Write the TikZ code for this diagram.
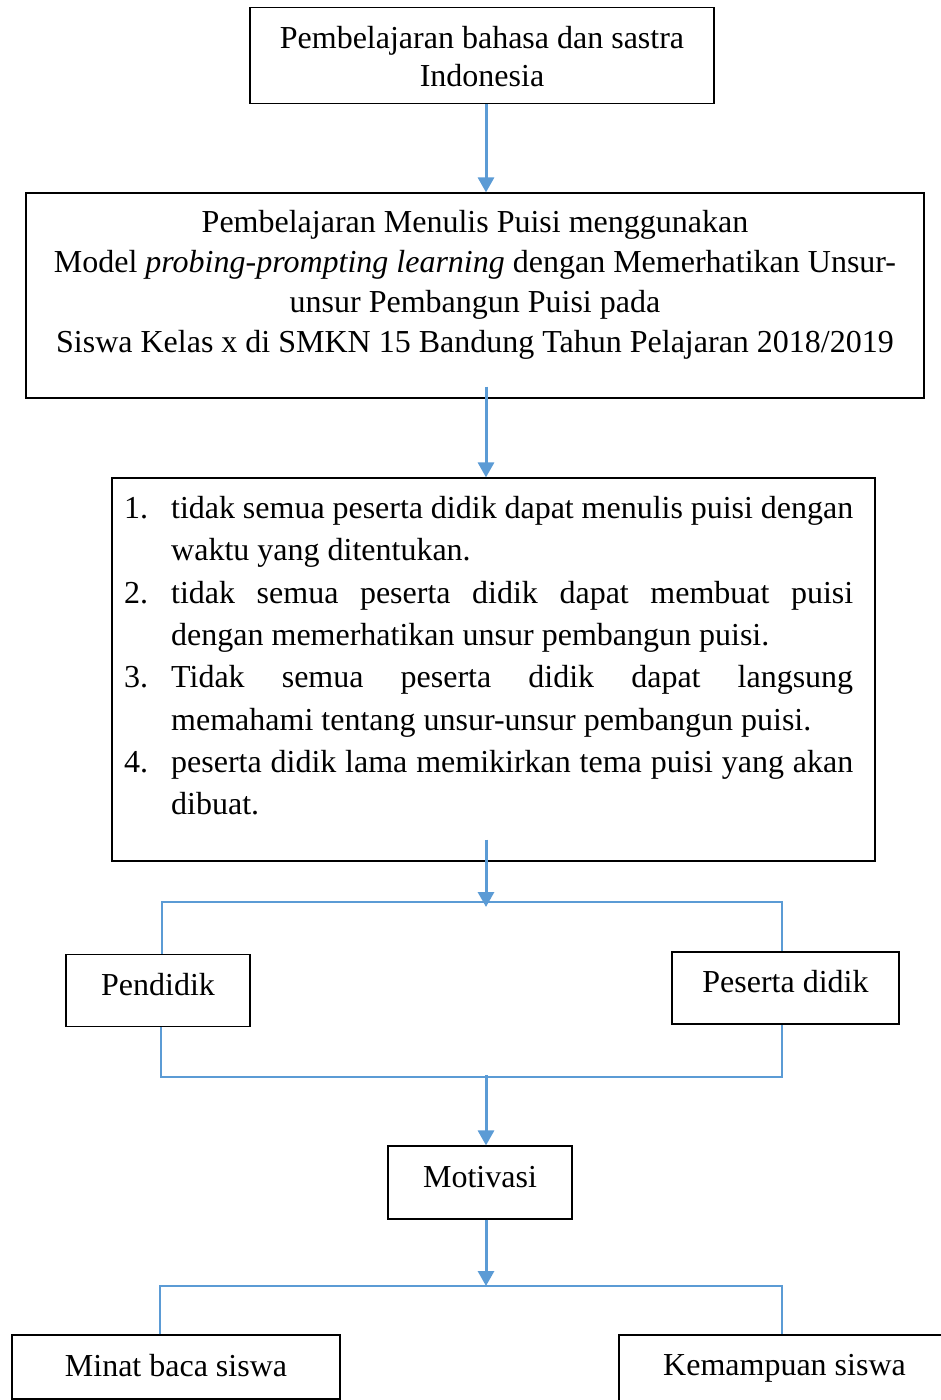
\documentclass[tikz,border=0pt]{standalone}
\usepackage{fontspec}
\setmainfont{Liberation Serif}
\usetikzlibrary{arrows.meta,calc}
\definecolor{blu}{HTML}{5B9BD5}
\newenvironment{masalah}{\begin{list}{\arabic{enumi}.}{\usecounter{enumi}%
  \setlength{\leftmargin}{47pt}\setlength{\labelsep}{0pt}\setlength{\labelwidth}{47pt}%
  \setlength{\itemsep}{0pt}\setlength{\parsep}{0pt}\setlength{\topsep}{0pt}%
  \setlength{\partopsep}{0pt}\setlength{\itemindent}{0pt}\setlength{\listparindent}{0pt}%
  \def\makelabel##1{##1\hfil}}}{\end{list}}
\begin{document}
\begin{tikzpicture}[x=1pt,y=-1pt,
  box/.style={draw=black, line width=1.2pt, rectangle, inner sep=0pt},
  txt/.style={inner sep=0pt, font=\fontsize{32}{40}\selectfont},
  one/.style={text height=20pt, text depth=11pt},
  two/.style={text height=22pt, text depth=4pt},
  arr/.style={draw=blu, line width=3pt, -{Triangle[width=16pt,length=15pt]}},
  link/.style={draw=blu, line width=1.3pt}]
\useasboundingbox (0,0) rectangle (940,1400);

% boxes
\node[box, minimum width=464pt, minimum height=96pt] (b1) at (482,55.3) {};
\node[txt, anchor=north, align=center, font=\fontsize{32}{38}\selectfont] (t1) at (482,26.5)
  {Pembelajaran bahasa dan sastra\\Indonesia};

\node[box, minimum width=898pt, minimum height=205pt] (b2) at (475,295.5) {};
\node[txt, anchor=north, align=center] (t2) at (475,210.5)
  {Pembelajaran Menulis Puisi menggunakan\\
   Model \textit{probing-prompting learning} dengan Memerhatikan Unsur-\\
   unsur Pembangun Puisi pada\\
   Siswa Kelas x di SMKN 15 Bandung Tahun Pelajaran 2018/2019};

\node[box, minimum width=763pt, minimum height=383pt] (b3) at (493.5,669.5) {};
\node[txt, anchor=north west, text width=729pt, align=justify, font=\fontsize{32}{42.3}\selectfont] (t3) at (124,476)
  {\tolerance=10000 \exhyphenpenalty=10000 \hyphenpenalty=10000
   \begin{masalah}
   \item tidak semua peserta didik dapat menulis puisi dengan\linebreak waktu yang ditentukan.
   \item tidak semua peserta didik dapat membuat puisi\linebreak dengan memerhatikan unsur pembangun puisi.
   \item Tidak semua peserta didik dapat langsung\linebreak memahami tentang unsur-unsur pembangun puisi.
   \item peserta didik lama memikirkan tema puisi yang akan\linebreak dibuat.
   \end{masalah}};

\node[box, txt, one, minimum width=184pt, minimum height=72pt] (bp) at (158,990.5) {Pendidik};
\node[box, txt, one, minimum width=227pt, minimum height=72pt] (bs) at (785.5,988) {Peserta didik};
\node[box, txt, one, minimum width=184pt, minimum height=73pt] (bm) at (480,1182.5) {Motivasi};
\node[box, txt, two, minimum width=328pt, minimum height=64pt] (bmin) at (176,1367) {Minat baca siswa};
\node[box, txt, one, minimum width=331pt, minimum height=72pt] (bk) at (784.5,1371) {Kemampuan siswa};

% connectors
\coordinate (ax) at (486,0);
\coordinate (l1) at (162,902);  \coordinate (r1) at (782,902);
\coordinate (l2) at (161,1077); \coordinate (r2) at (782,1077);
\coordinate (l3) at (160,1286); \coordinate (r3) at (782,1286);

\draw[arr] (b1.south -| ax) -- (b2.north -| ax);
\draw[arr] ($(b2.south -| ax)+(0,-12)$) -- (b3.north -| ax);
\draw[arr] ($(b3.south -| ax)+(0,-22)$) -- ($(l1 -| ax)+(0,5)$);
\draw[link] (bp.north -| l1) -- (l1) -- (r1) -- (bs.north -| r1);
\draw[link] (bp.south -| l2) -- (l2) -- (r2) -- (bs.south -| r2);
\draw[arr] ($(l2 -| ax)+(0,-2)$) -- (bm.north -| ax);
\draw[arr] (bm.south -| ax) -- (l3 -| ax);
\draw[link] (bmin.north -| l3) -- (l3) -- (r3) -- (bk.north -| r3);
\end{tikzpicture}
\end{document}
